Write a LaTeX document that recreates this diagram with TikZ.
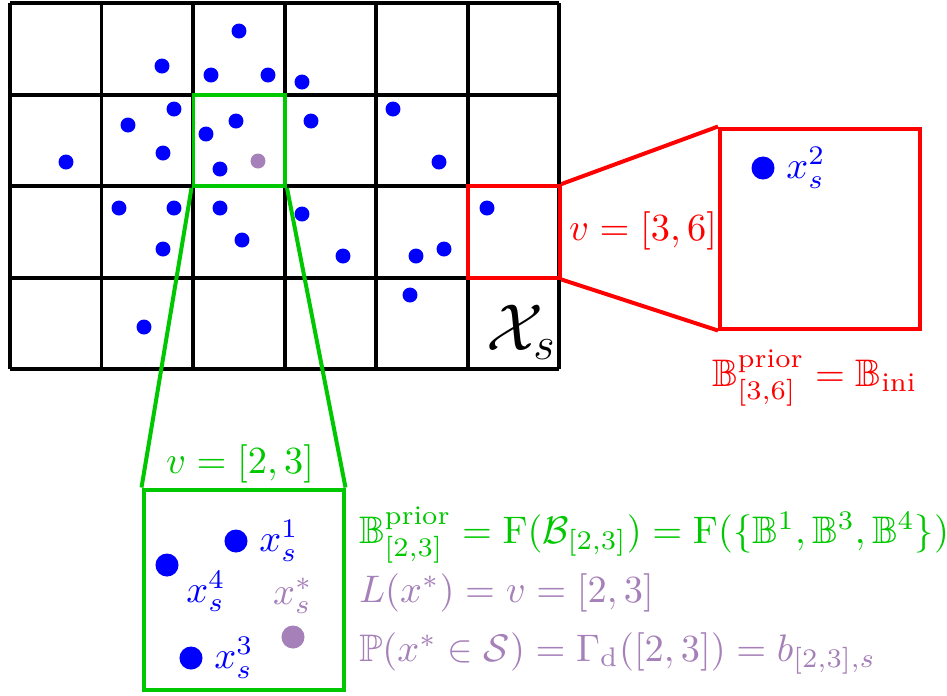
\documentclass[tikz,border=0pt]{standalone}
\usepackage{amsmath,amssymb}
\usepackage{xcolor}
\usetikzlibrary{positioning}
\definecolor{ZoomGreen}{HTML}{00C800}
\definecolor{ZoomRed}{HTML}{FF0000}
\definecolor{PtBlue}{HTML}{0000FF}
\definecolor{PtPurple}{HTML}{A680B8}

\begin{document}
\begin{tikzpicture}[x=0.2604pt,y=-0.2604pt,line width=1.04pt,node distance=1.04pt]
\tikzset{pt/.style={circle,fill=PtBlue,inner sep=0pt,minimum size=3.9pt},
         bigpt/.style={circle,fill=PtBlue,inner sep=0pt,minimum size=6pt},
         cellbox/.style={draw=#1,inner sep=0pt,minimum size=23.83pt},
         zoombox/.style={draw=#1,inner sep=0pt,minimum width=52.08pt,minimum height=52.08pt},
         ptlab/.style={text=PtBlue,inner sep=1pt},
         formula/.style={text=#1,anchor=base west,inner sep=0pt}}
\useasboundingbox (0,0) rectangle (947,695);
% grid X_s
\foreach \i in {0,...,6} \draw (10+91.5*\i,3) -- (10+91.5*\i,369);
\foreach \j in {0,...,4} \draw (10,3+91.5*\j) -- (559,3+91.5*\j);
\foreach \px/\py [count=\k] in {239/31,162/66,211/75,268/75,302/82,
  66/162,128/125,174/109,163/153,206/134,236/121,220/169,311/121,393/109,439/162,
  119/208,174/208,220/208,242/240,163/249,302/214,343/256,416/256,444/249,487/208,
  410/295,144/327}
  \node[pt] (p\k) at (\px,\py) {};
\node[pt,fill=PtPurple] (pstar) at (258,161) {};
\node[font=\LARGE,anchor=base west,inner sep=0pt] (xs) at (484,350) {$\mathcal{X}_s$};
% zoomed cells
\node[cellbox=ZoomGreen] (gcell) at (239.25,140.25) {};
\node[cellbox=ZoomRed] (rcell) at (513.75,231.75) {};
\node[zoombox=ZoomRed] (rbox) at (820,228.5) {};
\node[zoombox=ZoomGreen] (gbox) at (243.5,589.5) {};
\draw[ZoomRed] (rcell.north east) -- (rbox.north west);
\draw[ZoomRed] (rcell.south east) -- (rbox.south west);
\draw[ZoomGreen] (gcell.south west) -- (gbox.north west);
\draw[ZoomGreen] (gcell.south east) -- (gbox.north east);
\node[formula=ZoomRed] (rlab) at (567,240) {$v=[3,6]$};
\node[formula=ZoomGreen] (glab) at (164,473) {$v=[2,3]$};
\node[formula=ZoomRed] (rprior) at (710,386) {$\mathbb{B}^{\text{prior}}_{[3,6]}=\mathbb{B}_{\text{ini}}$};
% points in the zoomed cells
\node[bigpt] (x2) at (763,168) {};
\node[ptlab,right=of x2] (x2lab) {$x_s^2$};
\node[bigpt] (x1) at (236,541) {};
\node[ptlab,right=of x1] (x1lab) {$x_s^1$};
\node[bigpt] (x4) at (167,565) {};
\node[ptlab,anchor=north west] (x4lab) at (x4.east) {$x_s^4$};
\node[bigpt] (x3) at (191,658) {};
\node[ptlab,right=of x3] (x3lab) {$x_s^3$};
\node[bigpt,fill=PtPurple] (xstar) at (293,637) {};
\node[ptlab,text=PtPurple,above=of xstar] (xstarlab) {$x_s^*$};
% formulas
\node[formula=ZoomGreen] (gprior) at (357,543) {$\mathbb{B}^{\text{prior}}_{[2,3]}=\mathrm{F}(\mathcal{B}_{[2,3]})=\mathrm{F}(\{\mathbb{B}^1,\mathbb{B}^3,\mathbb{B}^4\})$};
\node[formula=PtPurple] (loc) at (357,602) {$L(x^*)=v=[2,3]$};
\node[formula=PtPurple] (prob) at (357,661) {$\mathbb{P}(x^*\in\mathcal{S})=\Gamma_{\mathrm{d}}([2,3])=b_{[2,3],s}$};
\end{tikzpicture}
\end{document}
